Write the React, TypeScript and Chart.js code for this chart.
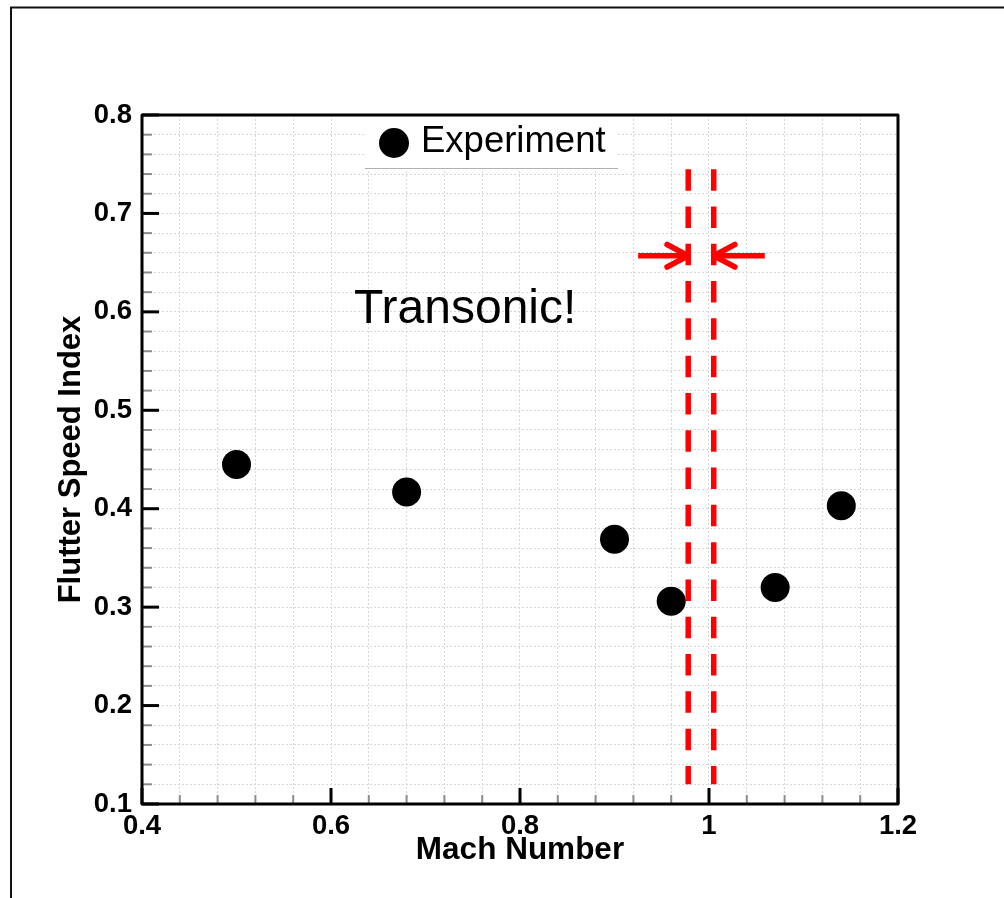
import React, { useEffect, useRef } from "react";
import { Chart, registerables } from "chart.js";

Chart.register(...registerables);

// ---- data ----
const MACH = [0.5, 0.68, 0.9, 0.96, 1.07, 1.14];
const FLUTTER_INDEX = [0.445, 0.417, 0.369, 0.306, 0.32, 0.403];
const SERIES_LABEL = "Experiment";
const X_TITLE = "Mach Number";
const Y_TITLE = "Flutter Speed Index";
const X_RANGE = [0.4, 1.2];
const Y_RANGE = [0.1, 0.8];
const X_MAJOR = 0.2;
const X_MINOR = 0.04;
const Y_MAJOR = 0.1;
const Y_MINOR = 0.02;
const BOUNDARY_X = [0.978, 1.005];
const BOUNDARY_Y = [0.745, 0.12];
const ARROW_LEFT_X = [0.925, 0.978];
const ARROW_RIGHT_X = [1.059, 1.005];
const ARROW_Y = 0.657;
const NOTE_TEXT = "Transonic!";
const NOTE_POS = [0.742, 0.6025];

const FONT = '"Liberation Sans", Arial, Helvetica, sans-serif';
const RED = "#ff0000";

const isMultiple = (v: number, step: number) =>
  Math.abs(v / step - Math.round(v / step)) < 1e-6;
const fmt = (v: number) => String(Math.round(v * 10) / 10);

const decorPlugin = {
  id: "decor",
  afterDatasetsDraw(chart: any) {
    const { ctx, chartArea: a, scales } = chart;
    const x = scales.x;
    const y = scales.y;
    const line = (x1: number, y1: number, x2: number, y2: number) => {
      ctx.beginPath();
      ctx.moveTo(x1, y1);
      ctx.lineTo(x2, y2);
      ctx.stroke();
    };
    ctx.save();

    // inner tick marks
    ctx.lineCap = "butt";
    x.ticks.forEach((t: any) => {
      const px = x.getPixelForValue(t.value);
      const major = isMultiple(t.value, X_MAJOR);
      ctx.strokeStyle = major ? "#000" : "#8c8c8c";
      ctx.lineWidth = major ? 3 : 2;
      line(px, a.bottom, px, a.bottom - (major ? 16 : 9));
    });
    y.ticks.forEach((t: any) => {
      const py = y.getPixelForValue(t.value);
      const major = isMultiple(t.value, Y_MAJOR);
      ctx.strokeStyle = major ? "#000" : "#8c8c8c";
      ctx.lineWidth = major ? 3 : 2;
      line(a.left, py, a.left + (major ? 17 : 10), py);
    });

    // arrow heads
    ctx.strokeStyle = RED;
    ctx.lineWidth = 5.5;
    ctx.lineCap = "round";
    const head = (fromX: number, tipX: number) => {
      const px = x.getPixelForValue(tipX);
      const py = y.getPixelForValue(ARROW_Y);
      const dir = Math.sign(x.getPixelForValue(tipX) - x.getPixelForValue(fromX));
      const L = 24;
      const ang = (28 * Math.PI) / 180;
      line(px, py, px - dir * L * Math.cos(ang), py - L * Math.sin(ang));
      line(px, py, px - dir * L * Math.cos(ang), py + L * Math.sin(ang));
    };
    head(ARROW_LEFT_X[0], ARROW_LEFT_X[1]);
    head(ARROW_RIGHT_X[0], ARROW_RIGHT_X[1]);

    // note text
    ctx.fillStyle = "#000";
    ctx.font = `48px ${FONT}`;
    ctx.textAlign = "center";
    ctx.textBaseline = "middle";
    ctx.fillText(NOTE_TEXT, x.getPixelForValue(NOTE_POS[0]), y.getPixelForValue(NOTE_POS[1]));

    // legend box
    const lx = a.left + 223;
    const lw = 253;
    const lh = 53;
    ctx.fillStyle = "#fff";
    ctx.fillRect(lx, a.top, lw, lh);
    ctx.strokeStyle = "#b0b0b0";
    ctx.lineWidth = 1;
    ctx.lineCap = "butt";
    line(lx, a.top + lh + 0.5, lx + lw, a.top + lh + 0.5);
    ctx.fillStyle = "#000";
    ctx.beginPath();
    ctx.arc(a.left + 252, a.top + 28, 15, 0, Math.PI * 2);
    ctx.fill();
    ctx.font = `36.5px ${FONT}`;
    ctx.textAlign = "left";
    ctx.textBaseline = "middle";
    ctx.fillText(SERIES_LABEL, a.left + 279, a.top + 27);

    // plot frame
    ctx.strokeStyle = "#000";
    ctx.lineWidth = 3;
    ctx.lineJoin = "round";
    ctx.strokeRect(a.left, a.top, a.right - a.left, a.bottom - a.top);

    // outer frame (left & top)
    ctx.strokeStyle = "#111";
    ctx.lineWidth = 2;
    ctx.lineJoin = "miter";
    ctx.beginPath();
    ctx.moveTo(11, chart.height);
    ctx.lineTo(11, 7.5);
    ctx.lineTo(chart.width, 7.5);
    ctx.stroke();

    ctx.restore();
  },
};

export default function App() {
  const ref = useRef<HTMLCanvasElement | null>(null);

  useEffect(() => {
    if (!ref.current) return;
    const pts = MACH.map((m, i) => ({ x: m, y: FLUTTER_INDEX[i] }));
    const chart = new Chart(ref.current, {
      type: "scatter",
      data: {
        datasets: [
          {
            label: SERIES_LABEL,
            data: pts,
            pointRadius: 14.5,
            pointHoverRadius: 14.5,
            backgroundColor: "#000",
            borderWidth: 0,
            showLine: false,
          },
          ...BOUNDARY_X.map((bx) => ({
            label: "boundary",
            data: BOUNDARY_Y.map((by) => ({ x: bx, y: by })),
            showLine: true,
            borderColor: RED,
            borderWidth: 5.5,
            borderDash: [21.5, 15.8],
            borderCapStyle: "butt" as const,
            pointRadius: 0,
            fill: false,
          })),
          ...[ARROW_LEFT_X, ARROW_RIGHT_X].map((ax) => ({
            label: "arrow",
            data: ax.map((v) => ({ x: v, y: ARROW_Y })),
            showLine: true,
            borderColor: RED,
            borderWidth: 5.5,
            borderCapStyle: "butt" as const,
            pointRadius: 0,
            fill: false,
          })),
        ],
      },
      options: {
        responsive: false,
        devicePixelRatio: 1,
        animation: false,
        layout: { padding: { left: 0, right: 106, top: 115, bottom: 0 } },
        plugins: { legend: { display: false }, tooltip: { enabled: false } },
        scales: {
          x: {
            type: "linear",
            position: "bottom",
            min: X_RANGE[0],
            max: X_RANGE[1],
            afterFit: (s: any) => {
              s.height = 94;
            },
            ticks: {
              stepSize: X_MINOR,
              autoSkip: false,
              maxRotation: 0,
              padding: 6,
              color: "#000",
              font: { family: FONT, size: 27.5, weight: "bold" },
              callback: (v: any) => (isMultiple(Number(v), X_MAJOR) ? fmt(Number(v)) : ""),
            },
            grid: { color: "#d6d6d6", lineWidth: 1, drawTicks: false },
            border: { display: false, dash: [2, 2] },
            title: {
              display: true,
              text: X_TITLE,
              color: "#000",
              font: { family: FONT, size: 31.5, weight: "bold" },
              padding: { top: 0, bottom: 28.4 },
            },
          },
          y: {
            type: "linear",
            position: "left",
            min: Y_RANGE[0],
            max: Y_RANGE[1],
            afterFit: (s: any) => {
              s.width = 142;
            },
            ticks: {
              stepSize: Y_MINOR,
              autoSkip: false,
              padding: 10,
              color: "#000",
              font: { family: FONT, size: 27.5, weight: "bold" },
              callback: (v: any) => (isMultiple(Number(v), Y_MAJOR) ? fmt(Number(v)) : ""),
            },
            grid: { color: "#d6d6d6", lineWidth: 1, drawTicks: false },
            border: { display: false, dash: [2, 2] },
            title: {
              display: true,
              text: Y_TITLE,
              color: "#000",
              font: { family: FONT, size: 31, weight: "bold" },
              padding: { top: 52.4, bottom: 0 },
            },
          },
        },
      },
      plugins: [decorPlugin],
    } as any);
    return () => chart.destroy();
  }, []);

  return (
    <div style={{ position: "absolute", left: 0, top: 0, width: 1004, height: 898, background: "#fff" }}>
      <canvas ref={ref} width={1004} height={898} style={{ display: "block" }} />
    </div>
  );
}
